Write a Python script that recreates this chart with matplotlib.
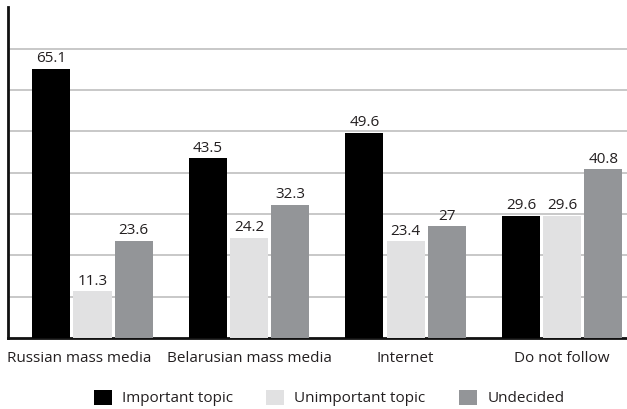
import matplotlib
matplotlib.use("Agg")
import matplotlib.pyplot as plt
import numpy as np

plt.rcParams['font.family'] = ['Open Sans', 'DejaVu Sans']

categories = ["Russian mass media", "Belarusian mass media", "Internet", "Do not follow"]
series_names = ["Important topic", "Unimportant topic", "Undecided"]
important = [65.1, 43.5, 49.6, 29.6]
unimportant = [11.3, 24.2, 23.4, 29.6]
undecided = [23.6, 32.3, 27, 40.8]
label_text = {0: ["65.1", "43.5", "49.6", "29.6"],
              1: ["11.3", "24.2", "23.4", "29.6"],
              2: ["23.6", "32.3", "27", "40.8"]}

colors = ["#000000", "#e1e1e2", "#939598"]
text_color = "#231f20"

W, H = 627, 409
fig = plt.figure(figsize=(W / 100, H / 100), dpi=100)
ax_left, ax_right, ax_top, ax_bottom = 8, 627, 7.5, 338
ax = fig.add_axes([ax_left / W, 1 - ax_bottom / H,
                   (ax_right - ax_left) / W, (ax_bottom - ax_top) / H])

x = np.arange(len(categories))
width = 0.243
offset = 0.263
series = [important, unimportant, undecided]
bars = []
for i, (vals, col, name) in enumerate(zip(series, colors, series_names)):
    b = ax.bar(x + (i - 1) * offset, vals, width, color=col, label=name, zorder=3)
    bars.append(b)
    for rect, txt in zip(b, label_text[i]):
        ax.annotate(txt, (rect.get_x() + rect.get_width() / 2, rect.get_height()),
                    xytext=(0, 2), textcoords="offset points",
                    ha="center", va="bottom", fontsize=11, color=text_color)

ax.set_ylim(0, 80)
ax.set_xlim(-0.54, 3.415)
ax.set_yticks(np.arange(10, 81, 10))
ax.yaxis.grid(True, color="#c4c4c4", linewidth=1.3, zorder=0)
ax.tick_params(axis="y", left=False, labelleft=False)
ax.tick_params(axis="x", bottom=False, pad=6, labelsize=11, labelcolor=text_color)

tick_pos = [-0.086, 1, 2, 3]
ax.set_xticks(tick_pos)
ax.set_xticklabels(categories)

for s in ["top", "right"]:
    ax.spines[s].set_visible(False)
ax.spines["left"].set_color("#111111")
ax.spines["left"].set_linewidth(2)
ax.spines["bottom"].set_color("#111111")
ax.spines["bottom"].set_linewidth(2)

fig.legend(handles=bars, labels=series_names, loc="center",
           bbox_to_anchor=(329 / W, 1 - 398 / H), ncol=3, frameon=False,
           fontsize=11, handlelength=1.18, handleheight=1.18,
           handletextpad=0.65, columnspacing=2.2, labelcolor=text_color)

fig.savefig("out.png", dpi=100)
